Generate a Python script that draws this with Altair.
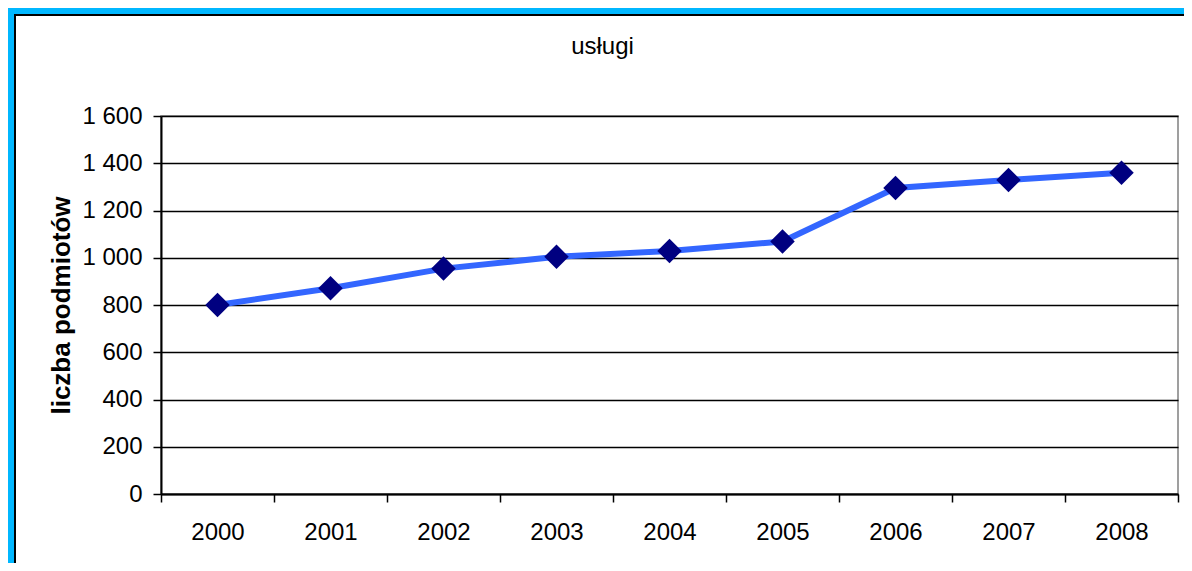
import altair as alt
import pandas as pd

years = ["2000", "2001", "2002", "2003", "2004", "2005", "2006", "2007", "2008"]
values = [800, 871, 954, 1004, 1029, 1069, 1295, 1329, 1360]
y_ticks = [0, 200, 400, 600, 800, 1000, 1200, 1400, 1600]
title_text = "usługi"
y_title = "liczba podmiotów"

FONT = "Liberation Sans"
W, H = 1017, 378
PAD = {"left": 153, "top": 108, "right": 6, "bottom": 69}

df = pd.DataFrame({"rok": years, "liczba": values})

x_enc = alt.X(
    "rok:N", sort=years, title=None,
    scale=alt.Scale(type="band", paddingInner=0, paddingOuter=0),
    axis=alt.Axis(labelAngle=0, tickBand="extent", grid=False, tickSize=8,
                  labelPadding=18, labelFontSize=24, labelFont=FONT,
                  labelColor="black", domainColor="black", domainWidth=2,
                  tickColor="black", tickWidth=1.5),
)
y_enc = alt.Y(
    "liczba:Q", title=y_title,
    scale=alt.Scale(domain=[0, 1600], nice=False),
    axis=alt.Axis(values=y_ticks,
                  labelExpr="replace(format(datum.value, ','), ',', ' ')",
                  grid=True, gridColor="black", gridWidth=1.5,
                  tickSize=8, tickColor="black", tickWidth=1.5,
                  domainColor="black", domainWidth=2,
                  labelPadding=11, labelFontSize=24, labelFont=FONT,
                  labelColor="black",
                  titleX=-100, titleY=H / 2, titleAngle=270,
                  titleAlign="center", titleBaseline="middle",
                  titleFontSize=26, titleFont=FONT, titleFontWeight="bold",
                  titleColor="black"),
)

base = alt.Chart(df).encode(x=x_enc, y=y_enc)
line = base.mark_line(color="#3366FF", strokeWidth=6)
pts = base.mark_point(shape="diamond", filled=True, size=600,
                      color="#000080", opacity=1)

one = pd.DataFrame({"a": [0]})
title_mark = alt.Chart(one).mark_text(
    text=title_text, font=FONT, fontSize=24, color="black",
    align="center", baseline="alphabetic").encode(
    x=alt.value(W / 2 - 67), y=alt.value(-62))

cyan = "#00B7FF"
left_cyan = alt.Chart(one).mark_rect(color=cyan).encode(
    x=alt.value(-PAD["left"]), x2=alt.value(-PAD["left"] + 6),
    y=alt.value(-PAD["top"]), y2=alt.value(H + PAD["bottom"]))
top_cyan = alt.Chart(one).mark_rect(color=cyan).encode(
    x=alt.value(-PAD["left"]), x2=alt.value(W + PAD["right"]),
    y=alt.value(-PAD["top"]), y2=alt.value(-PAD["top"] + 6))
left_black = alt.Chart(one).mark_rect(color="black").encode(
    x=alt.value(-PAD["left"] + 6), x2=alt.value(-PAD["left"] + 8),
    y=alt.value(-PAD["top"] + 6), y2=alt.value(H + PAD["bottom"]))
top_black = alt.Chart(one).mark_rect(color="black").encode(
    x=alt.value(-PAD["left"] + 6), x2=alt.value(W + PAD["right"]),
    y=alt.value(-PAD["top"] + 6), y2=alt.value(-PAD["top"] + 8))

chart = alt.layer(line, pts, title_mark, left_cyan, top_cyan, left_black, top_black).properties(
    width=W, height=H,
    autosize=alt.AutoSizeParams(type="none"),
    padding=PAD,
    background="white",
).configure_view(stroke="#808080", strokeWidth=1.5)

chart.save("out.html", embed_options={"renderer": "svg", "actions": False})
